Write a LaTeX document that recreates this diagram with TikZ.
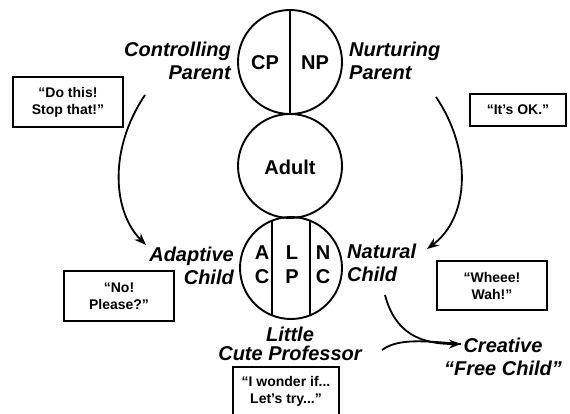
\documentclass[tikz,border=0pt]{standalone}
\usepackage{fontspec}
\setmainfont{Liberation Sans}
\usetikzlibrary{arrows.meta,calc}

\begin{document}
\begin{tikzpicture}[x=1pt,y=-1pt,
  ego/.style={circle, draw, line width=1.9pt, minimum size=#1, inner sep=0pt},
  divider/.style={line width=1.9pt},
  role/.style={font=\fontsize{20}{23}\selectfont\bfseries\itshape, inner sep=0pt},
  letter/.style={font=\fontsize{20}{24}\selectfont\bfseries, inner sep=0pt, align=center},
  quotebox/.style={draw, line width=2.3pt, inner sep=0pt},
  quotetext/.style={font=\fontsize{14}{17}\selectfont\bfseries, align=center, inner sep=0pt},
  flow/.style={line width=1.8pt},
  tip/.style={-{Stealth[length=12pt,width=9pt]}}
]
\useasboundingbox (0,0) rectangle (570,414);

% the three ego states
\node[ego=104pt] (parent) at (290,62) {};
\node[ego=104pt] (adult) at (290,166) {};
\node[ego=102pt] (child) at (291,268) {};

\draw[divider] (parent.north) -- (parent.south);
\draw[divider] ($(child.center)+(-19,-47.4)$) -- ($(child.center)+(-19,47.4)$);
\draw[divider] ($(child.center)+(19,-47.4)$) -- ($(child.center)+(19,47.4)$);

\node[letter] (cp) at (265,63) {CP};
\node[letter] (np) at (315,63) {NP};
\node[letter] (ad) at (290,167) {Adult};
\node[letter] (ac) at (262,265) {A\\C};
\node[letter] (lp) at (292,265) {L\\P};
\node[letter] (nc) at (323,265) {N\\C};

% role names
\node[role, anchor=east, align=right] (cpl) at (231,61) {Controlling\\Parent};
\node[role, anchor=west, align=left] (npl) at (349,61) {Nurturing\\Parent};
\node[role, anchor=east, align=right] (acl) at (234,266) {Adaptive\\Child};
\node[role, anchor=west, align=left] (ncl) at (347,263) {Natural\\Child};
\node[role, align=center, font=\fontsize{20}{18.5}\selectfont\bfseries\itshape] (lpl) at (290,344) {Little\\Cute Professor};
\node[role, align=center] (fcl) at (503,357) {Creative\\“Free Child”};

% typical phrases
\node[quotebox, minimum width=110pt, minimum height=50pt] (q1) at (68,102) {};
\node[quotetext] (t1) at (q1) {“Do this!\\Stop that!”};
\node[quotebox, minimum width=96pt, minimum height=32pt] (q2) at (518,110) {};
\node[quotetext] (t2) at (q2) {“It’s OK.”};
\node[quotebox, minimum width=110pt, minimum height=50pt] (q3) at (119,296) {};
\node[quotetext] (t3) at (q3) {“No!\\Please?”};
\node[quotebox, minimum width=110pt, minimum height=49pt] (q4) at (492,285.5) {};
\node[quotetext] (t4) at (q4) {“Wheee!\\Wah!”};
% this box runs off the lower edge
\node[quotebox, minimum width=106pt, minimum height=64pt] (q5) at (286,399) {};
\node[quotetext] (t5) at (286,391) {“I wonder if...\\Let’s try...”};

% arrows
\coordinate (cpfrom) at (145,95);
\coordinate (acto) at (146,245);
\coordinate (npfrom) at (436,97);
\coordinate (ncto) at (427,249);
\coordinate (ncfrom) at (385,295);
\coordinate (lpfrom) at (382,350);
\coordinate (fcto) at (461,344);

\draw[flow, tip] (cpfrom) .. controls (108,150) and (113,212) .. (acto);
\draw[flow, tip] (npfrom) .. controls (472,150) and (470,217) .. (ncto);
\draw[flow, tip] (ncfrom) .. controls (395,333) and (420,344) .. (fcto);
\draw[flow] (lpfrom) .. controls (398,338) and (425,341) .. (fcto);
\end{tikzpicture}
\end{document}
